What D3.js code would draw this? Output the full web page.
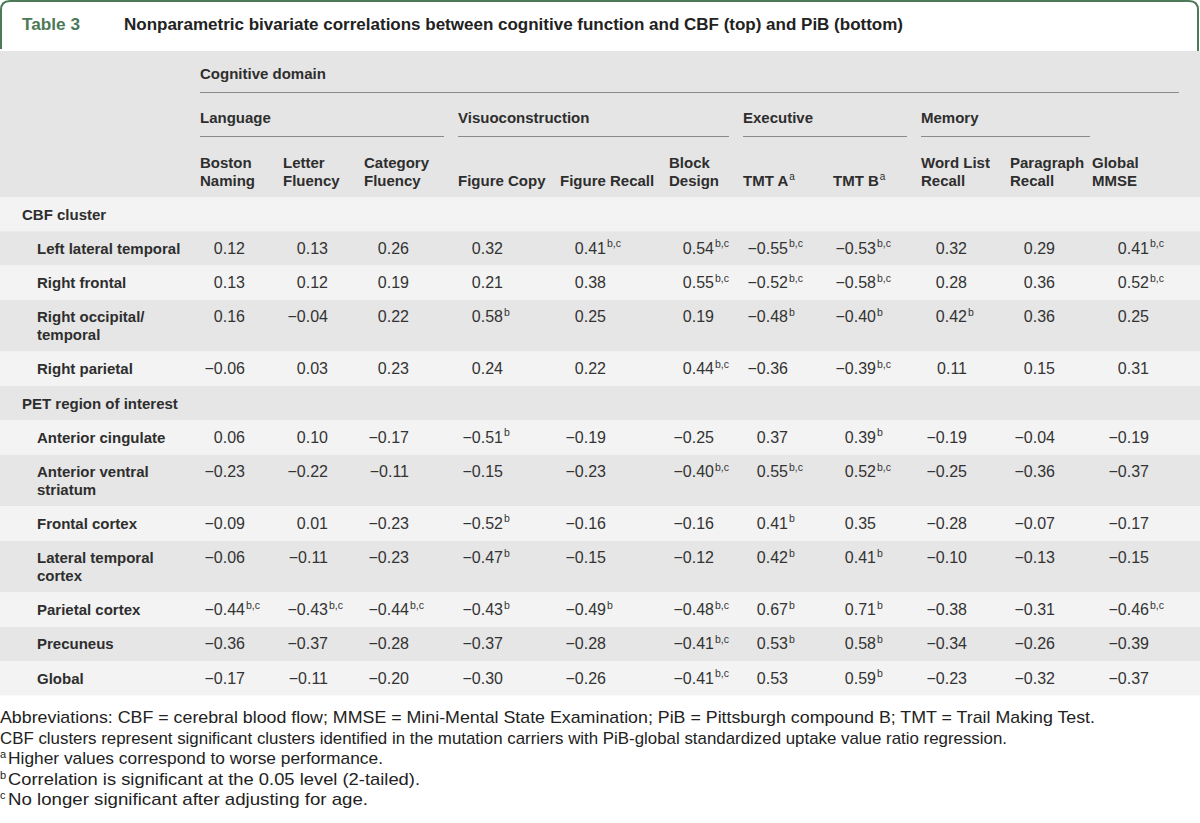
<!DOCTYPE html>
<html>
<head>
<meta charset="utf-8">
<script src="https://cdn.jsdelivr.net/npm/d3@7"></script>
<style>
  body { margin: 0; background: #fff; }
  text { font-family: "Liberation Sans", Arial, sans-serif; }
</style>
</head>
<body>
<script>
// ---- table content ----
var tableNumber = "Table 3";
var tableTitle = "Nonparametric bivariate correlations between cognitive function and CBF (top) and PiB (bottom)";

var columns = ["Boston\nNaming", "Letter\nFluency", "Category\nFluency", "Figure Copy", "Figure Recall",
  "Block\nDesign", "TMT A", "TMT B", "Word List\nRecall", "Paragraph\nRecall", "Global\nMMSE"];
var columnNotes = ["", "", "", "", "", "", "a", "a", "", "", ""];
var domains = ["Language", "Visuoconstruction", "Executive", "Memory"];
var domainColumns = [[0, 2], [3, 5], [6, 7], [8, 9]];

var sections = ["CBF cluster", "PET region of interest"];

var cbfRegions = ["Left lateral temporal", "Right frontal", "Right occipital/\ntemporal", "Right parietal"];
var cbfValues = [
  [0.12, 0.13, 0.26, 0.32, 0.41, 0.54, -0.55, -0.53, 0.32, 0.29, 0.41],
  [0.13, 0.12, 0.19, 0.21, 0.38, 0.55, -0.52, -0.58, 0.28, 0.36, 0.52],
  [0.16, -0.04, 0.22, 0.58, 0.25, 0.19, -0.48, -0.40, 0.42, 0.36, 0.25],
  [-0.06, 0.03, 0.23, 0.24, 0.22, 0.44, -0.36, -0.39, 0.11, 0.15, 0.31]
];
var cbfNotes = [
  ["", "", "", "", "bc", "bc", "bc", "bc", "", "", "bc"],
  ["", "", "", "", "", "bc", "bc", "bc", "", "", "bc"],
  ["", "", "", "b", "", "", "b", "b", "b", "", ""],
  ["", "", "", "", "", "bc", "", "bc", "", "", ""]
];

var petRegions = ["Anterior cingulate", "Anterior ventral\nstriatum", "Frontal cortex", "Lateral temporal\ncortex",
  "Parietal cortex", "Precuneus", "Global"];
var petValues = [
  [0.06, 0.10, -0.17, -0.51, -0.19, -0.25, 0.37, 0.39, -0.19, -0.04, -0.19],
  [-0.23, -0.22, -0.11, -0.15, -0.23, -0.40, 0.55, 0.52, -0.25, -0.36, -0.37],
  [-0.09, 0.01, -0.23, -0.52, -0.16, -0.16, 0.41, 0.35, -0.28, -0.07, -0.17],
  [-0.06, -0.11, -0.23, -0.47, -0.15, -0.12, 0.42, 0.41, -0.10, -0.13, -0.15],
  [-0.44, -0.43, -0.44, -0.43, -0.49, -0.48, 0.67, 0.71, -0.38, -0.31, -0.46],
  [-0.36, -0.37, -0.28, -0.37, -0.28, -0.41, 0.53, 0.58, -0.34, -0.26, -0.39],
  [-0.17, -0.11, -0.20, -0.30, -0.26, -0.41, 0.53, 0.59, -0.23, -0.32, -0.37]
];
var petNotes = [
  ["", "", "", "b", "", "", "", "b", "", "", ""],
  ["", "", "", "", "", "bc", "bc", "bc", "", "", ""],
  ["", "", "", "b", "", "", "b", "", "", "", ""],
  ["", "", "", "b", "", "", "b", "b", "", "", ""],
  ["bc", "bc", "bc", "b", "b", "bc", "b", "b", "", "", "bc"],
  ["", "", "", "", "", "bc", "b", "b", "", "", ""],
  ["", "", "", "", "", "bc", "", "b", "", "", ""]
];

var footnotes = [
  ["", "Abbreviations: CBF = cerebral blood flow; MMSE = Mini-Mental State Examination; PiB = Pittsburgh compound B; TMT = Trail Making Test."],
  ["", "CBF clusters represent significant clusters identified in the mutation carriers with PiB-global standardized uptake value ratio regression."],
  ["a", "Higher values correspond to worse performance."],
  ["b", "Correlation is significant at the 0.05 level (2-tailed)."],
  ["c", "No longer significant after adjusting for age."]
];
var footnoteWidths = [1095, 1007, 375, 412, 360];

// ---- drawing ----
var W = 1200, H = 823;
var svg = d3.select("body").append("svg").attr("width", W).attr("height", H);
svg.append("rect").attr("width", W).attr("height", H).attr("fill", "#fff");

var fmt = d3.format(".2f");
var noteText = function (n) { return n === "bc" ? "b,c" : n; };

var colIdx = d3.range(columns.length);
var colLeft = d3.scaleOrdinal().domain(colIdx).range([200, 283, 364, 458, 560, 669, 743, 833, 921, 1010, 1092]);
var colRight = d3.scaleOrdinal().domain(colIdx).range([245, 328, 409, 503, 606, 714, 788, 876, 967, 1055, 1149]);

var green = "#4c7957";
var ink = "#2e2e2e";

// title tab
svg.append("path")
  .attr("d", "M1,49 V10 Q1,1 10,1 H1189 Q1198,1 1198,10 V52")
  .attr("fill", "none").attr("stroke", green).attr("stroke-width", 2);
svg.append("text").attr("x", 22).attr("y", 30)
  .attr("font-size", 17).attr("fill", green).attr("font-weight", "bold")
  .attr("textLength", 58).attr("lengthAdjust", "spacingAndGlyphs")
  .text(tableNumber);
svg.append("text").attr("x", 124).attr("y", 30)
  .attr("font-size", 16).attr("fill", "#222").attr("font-weight", "bold")
  .attr("textLength", 779).attr("lengthAdjust", "spacingAndGlyphs")
  .text(tableTitle);

// header block
var headTop = 51, headBottom = 197;
svg.append("rect").attr("x", 0).attr("y", headTop).attr("width", W).attr("height", headBottom - headTop)
  .attr("fill", "#e5e5e5");

var head = svg.append("g").attr("font-weight", "bold").attr("font-size", 15).attr("fill", ink);
head.append("text").attr("x", colLeft(0)).attr("y", 79).text("Cognitive domain");
head.append("line").attr("x1", colLeft(0)).attr("x2", 1179).attr("y1", 92.5).attr("y2", 92.5)
  .attr("stroke", "#8a8a8a").attr("stroke-width", 1);

var domainEnd = function (i) {
  return i < domains.length - 1 ? colLeft(domainColumns[i + 1][0]) - 14 : 1090;
};
domains.forEach(function (d, i) {
  head.append("text").attr("x", colLeft(domainColumns[i][0])).attr("y", 123).text(d);
  head.append("line").attr("x1", colLeft(domainColumns[i][0])).attr("x2", domainEnd(i))
    .attr("y1", 136.5).attr("y2", 136.5).attr("stroke", "#8a8a8a").attr("stroke-width", 1);
});

columns.forEach(function (c, i) {
  var lines = c.split("\n");
  var t = head.append("text").attr("x", colLeft(i)).attr("y", lines.length === 2 ? 168 : 186);
  lines.forEach(function (l, k) {
    t.append("tspan").attr("x", colLeft(i)).attr("dy", k === 0 ? 0 : 18).text(l);
  });
  if (columnNotes[i]) {
    t.append("tspan").attr("font-size", 10).attr("font-weight", "normal").attr("dy", -6).attr("dx", 1)
      .text(columnNotes[i]);
  }
});

// body rows
var bodyRows = [];
bodyRows.push({ label: sections[0], section: true });
cbfRegions.forEach(function (r, i) { bodyRows.push({ label: r, values: cbfValues[i], notes: cbfNotes[i] }); });
bodyRows.push({ label: sections[1], section: true });
petRegions.forEach(function (r, i) { bodyRows.push({ label: r, values: petValues[i], notes: petNotes[i] }); });

var single = 34.3, dbl = 51.8;
var y0 = headBottom;
bodyRows.forEach(function (r) {
  r.h = r.label.indexOf("\n") >= 0 ? dbl : single;
  r.y = y0;
  y0 += r.h;
});

var rowG = svg.selectAll("g.row").data(bodyRows).enter().append("g").attr("class", "row")
  .attr("transform", function (d) { return "translate(0," + d.y + ")"; });

rowG.append("rect").attr("x", 0).attr("width", W).attr("height", function (d) { return d.h; })
  .attr("fill", function (d, i) { return i % 2 === 0 ? "#f3f3f3" : "#e6e6e6"; });

rowG.each(function (d) {
  var g = d3.select(this);
  var lines = d.label.split("\n");
  var t = g.append("text").attr("x", d.section ? 22 : 37).attr("y", 22.5)
    .attr("font-size", 15).attr("font-weight", "bold").attr("fill", ink);
  lines.forEach(function (l, k) {
    t.append("tspan").attr("x", d.section ? 22 : 37).attr("dy", k === 0 ? 0 : 18).text(l);
  });
  if (!d.values) return;
  d.values.forEach(function (v, j) {
    g.append("text").attr("x", colRight(j)).attr("y", 22.5).attr("text-anchor", "end")
      .attr("font-size", 16).attr("fill", "#333").text(fmt(v));
    if (d.notes[j]) {
      g.append("text").attr("x", colRight(j) + 1).attr("y", 16).attr("font-size", 10.5).attr("fill", "#333")
        .text(noteText(d.notes[j]));
    }
  });
});

// footnotes
var foot = svg.append("g").attr("font-family", "'Liberation Sans Narrow', 'DejaVu Sans Condensed', sans-serif")
  .attr("fill", "#222");
footnotes.forEach(function (f, i) {
  var y = 723 + i * 20.6;
  if (f[0]) {
    foot.append("text").attr("x", 0).attr("y", y - 6).attr("font-size", 11).text(f[0]);
  }
  foot.append("text").attr("x", f[0] ? 8 : 0).attr("y", y).attr("font-size", 17)
    .attr("textLength", footnoteWidths[i]).attr("lengthAdjust", "spacingAndGlyphs").text(f[1]);
});
</script>
</body>
</html>
